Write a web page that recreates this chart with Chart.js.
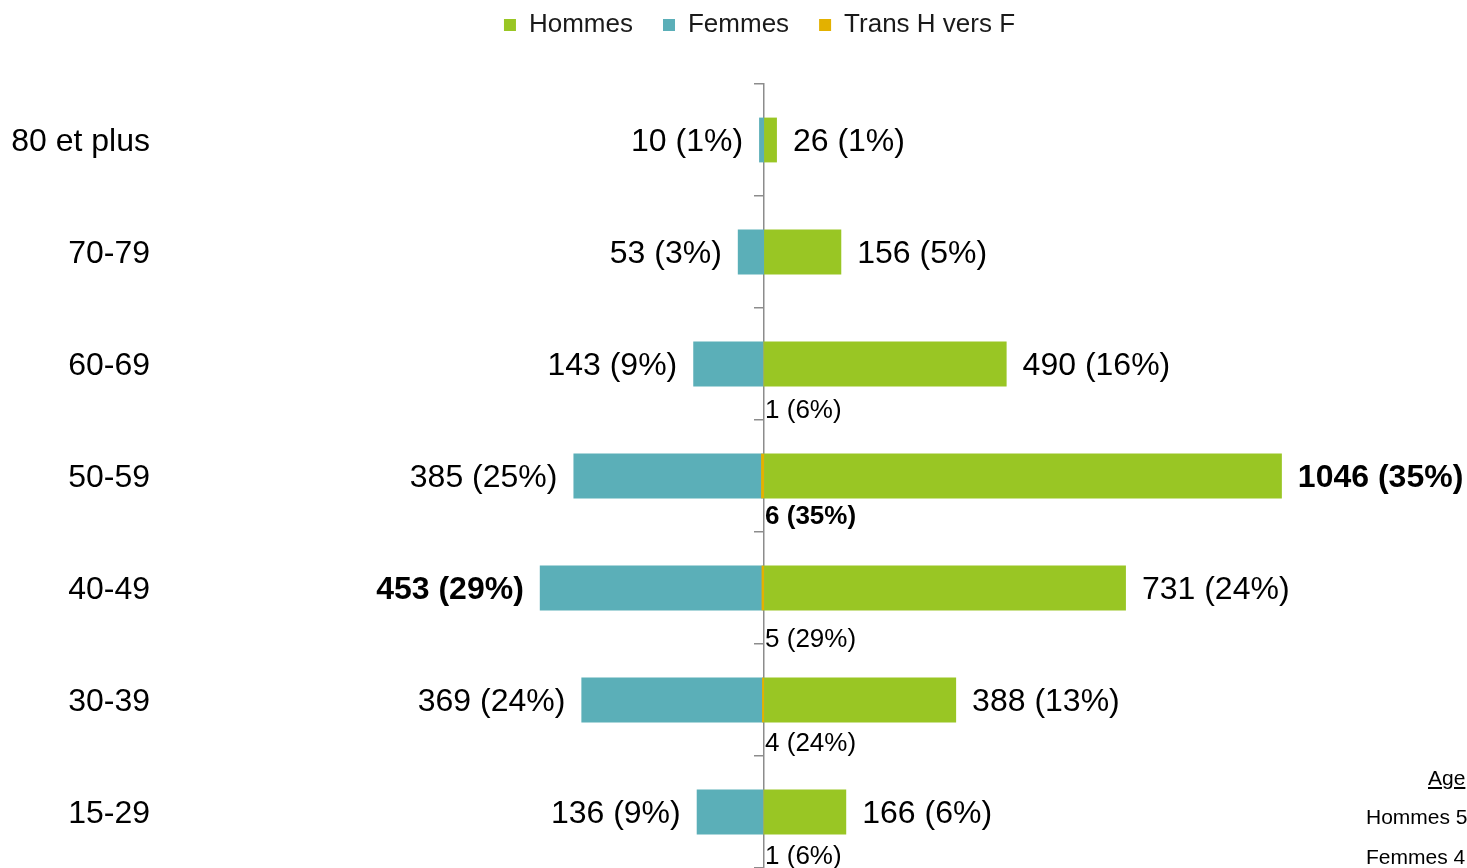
<!DOCTYPE html>
<html><head><meta charset="utf-8">
<script src="https://cdn.jsdelivr.net/npm/chart.js@4.4.1/dist/chart.umd.min.js"></script>
<style>
html,body{margin:0;padding:0;background:#fff;overflow:hidden;}
#wrap{position:relative;width:1467px;height:868px;overflow:hidden;}
canvas{display:block;}
.note{position:absolute;font-family:"Liberation Sans",Arial,sans-serif;font-size:21px;color:#000;white-space:nowrap;line-height:1;}
</style></head><body>
<div id="wrap"><canvas id="c" width="1467" height="868"></canvas>
<div class="note" style="left:1428px;top:767px;text-decoration:underline;">Age</div>
<div class="note" style="left:1366px;top:806px;">Hommes 5</div>
<div class="note" style="left:1366px;top:846px;">Femmes 4</div>
</div>
<script>
const categories = ['80 et plus','70-79','60-69','50-59','40-49','30-39','15-29'];
const hommes = [26,156,490,1046,731,388,166];
const femmes = [10,53,143,385,453,369,136];
const trans = [0,0,1,6,5,4,1];
const seriesNames = ['Hommes','Femmes','Trans H vers F'];

const FONT = '"Liberation Sans", Arial, sans-serif';

const labelPlugin = {
  id: 'barLabels',
  afterDatasetsDraw(chart, args, opts) {
    const ctx = chart.ctx;
    const x0 = chart.scales.x.getPixelForValue(0);
    [hommes, femmes, trans].forEach((arr, di) => {
      const total = arr.reduce((a, b) => a + b, 0);
      const max = Math.max(...arr);
      const meta = chart.getDatasetMeta(di);
      meta.data.forEach((bar, i) => {
        const v = arr[i];
        if (!v) return;
        const txt = v + ' (' + Math.round(v / total * 100) + '%)';
        const bold = v === max ? 'bold ' : '';
        ctx.save();
        ctx.fillStyle = '#000';
        ctx.textBaseline = 'middle';
        if (di === 0) {
          ctx.font = bold + '32px ' + FONT;
          ctx.textAlign = 'left';
          ctx.fillText(txt, bar.x + 16, bar.y + 2);
        } else if (di === 1) {
          ctx.font = bold + '32px ' + FONT;
          ctx.textAlign = 'right';
          ctx.fillText(txt, bar.x - 16, bar.y + 2);
        } else {
          ctx.font = bold + '26px ' + FONT;
          ctx.textAlign = 'left';
          ctx.fillText(txt, x0 + 1, bar.y + opts.transDy[i]);
        }
        ctx.restore();
      });
    });
  }
};

const legendSpace = {
  id: 'legendSpace',
  beforeInit(chart) {
    const orig = chart.legend.fit;
    chart.legend.fit = function () { orig.call(this); this.height = 84; };
  },
  afterLayout(chart) {
    const lg = chart.legend;
    lg.top -= 18;
    lg.left += 26;
    lg.right += 26;
  }
};

function noPad(scale) {
  scale.paddingTop = 0;
  scale.paddingBottom = 0;
}

new Chart(document.getElementById('c'), {
  type: 'bar',
  data: {
    labels: categories,
    datasets: [
      { label: seriesNames[0], data: hommes, backgroundColor: '#99C624', order: 2 },
      { label: seriesNames[1], data: femmes.map(v => -v), backgroundColor: '#5BAFB8', order: 1 },
      { label: seriesNames[2], data: trans.map(v => -v), backgroundColor: '#E3B100', order: 0 }
    ]
  },
  options: {
    indexAxis: 'y',
    responsive: false,
    animation: false,
    devicePixelRatio: 1,
    layout: { padding: 0 },
    datasets: { bar: { grouped: false, categoryPercentage: 0.4, barPercentage: 1, borderWidth: 0 } },
    scales: {
      x: { display: false, min: -1200, max: 1420 },
      y: {
        position: 'left',
        grid: { display: false, drawTicks: false },
        border: { display: false },
        ticks: { color: '#000', font: { family: FONT, size: 32 }, padding: 20, labelOffset: 2 },
        afterFit(scale) { scale.width = 170; noPad(scale); }
      },
      y2: {
        type: 'category',
        position: { x: 0 },
        offset: true,
        z: 1,
        grid: { offset: true, drawOnChartArea: false, drawTicks: true, tickLength: 9, color: '#8c8c8c', lineWidth: 1.5 },
        border: { display: true, color: '#8c8c8c', width: 1.5 },
        ticks: { display: false },
        afterFit(scale) { noPad(scale); }
      }
    },
    plugins: {
      legend: {
        position: 'top',
        labels: {
          boxWidth: 12, boxHeight: 12, padding: 30, color: '#1a1a1a',
          font: { family: FONT, size: 26 },
          sort: (a, b) => a.datasetIndex - b.datasetIndex
        }
      },
      tooltip: { enabled: false },
      barLabels: { transDy: [45, 45, 47, 41, 52, 44, 45] }
    }
  },
  plugins: [labelPlugin, legendSpace]
});
</script>
</body></html>
